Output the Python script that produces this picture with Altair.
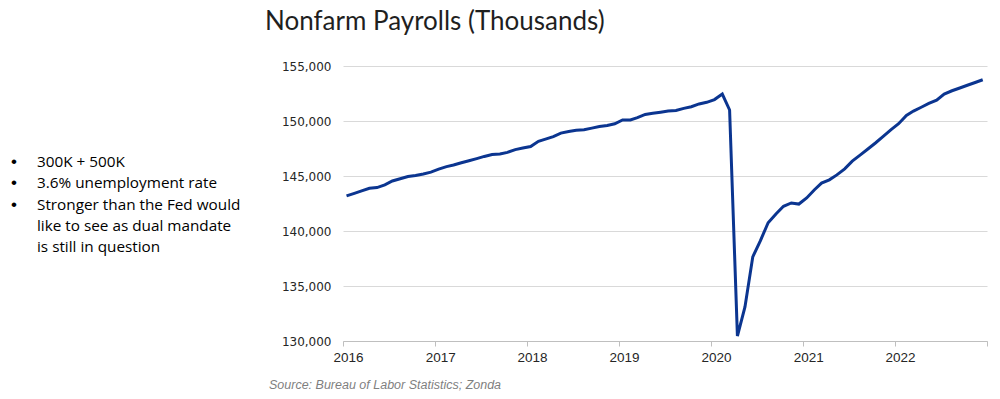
import altair as alt
import pandas as pd

# Monthly nonfarm payrolls (thousands)
payrolls_2016 = [143190, 143420, 143650, 143880, 143950, 144200, 144550, 144750, 144950, 145050, 145180, 145350]
payrolls_2017 = [145620, 145850, 146000, 146200, 146380, 146580, 146780, 146950, 147000, 147150, 147400, 147550]
payrolls_2018 = [147680, 148150, 148350, 148580, 148900, 149050, 149150, 149200, 149350, 149500, 149600, 149750]
payrolls_2019 = [150100, 150100, 150300, 150600, 150700, 150800, 150900, 150950, 151150, 151300, 151550, 151700]
payrolls_2020 = [151950, 152450, 151000, 130450, 133100, 137650, 139100, 140750, 141550, 142250, 142550, 142450]
payrolls_2021 = [143000, 143750, 144350, 144650, 145100, 145650, 146350, 146900, 147450, 148000, 148600, 149200]
payrolls_2022 = [149750, 150500, 150900, 151250, 151600, 151900, 152450, 152750, 153000, 153250, 153500, 153750]

years = [2016, 2017, 2018, 2019, 2020, 2021, 2022]
series = [payrolls_2016, payrolls_2017, payrolls_2018, payrolls_2019,
          payrolls_2020, payrolls_2021, payrolls_2022]

y_ticks = [130000, 135000, 140000, 145000, 150000, 155000]
x_tick_years = [2016, 2017, 2018, 2019, 2020, 2021, 2022, 2023]

title_text = "Nonfarm Payrolls (Thousands)"
source_text = "Source: Bureau of Labor Statistics; Zonda"
bullet_lines = [
    ("•", "300K + 500K"),
    ("•", "3.6% unemployment rate"),
    ("•", "Stronger than the Fed would"),
    ("", "like to see as dual mandate"),
    ("", "is still in question"),
]

rows = []
for yr, vals in zip(years, series):
    for m, v in enumerate(vals, start=1):
        rows.append({"date": f"{yr}-{m:02d}-15", "payrolls": v})
df = pd.DataFrame(rows)

W, H = 644, 275
LEFT, TOP = 335, 58

x_scale = alt.Scale(
    type="utc",
    domain=[alt.DateTime(year=2016, month=1, date=1, utc=True),
            alt.DateTime(year=2023, month=1, date=1, utc=True)],
)

line = alt.Chart(df).mark_line(color="#0b3590", strokeWidth=3, strokeJoin="miter").encode(
    x=alt.X(
        "date:T",
        scale=x_scale,
        axis=alt.Axis(
            title=None,
            values=[alt.DateTime(year=y, month=1, date=1, utc=True) for y in x_tick_years],
            labelExpr="utcFormat(datum.value, '%Y') == '2023' ? '' : utcFormat(datum.value, '%Y')",
            grid=False,
            domainColor="#bfbfbf",
            tickColor="#bfbfbf",
            tickSize=5,
            labelPadding=4,
            labelFont="Liberation Sans",
            labelFontSize=13.5,
            labelColor="#262626",
            labelOffset=5,
            labelFlush=False,
        ),
    ),
    y=alt.Y(
        "payrolls:Q",
        scale=alt.Scale(domain=[130000, 155000], nice=False, zero=False),
        axis=alt.Axis(
            title=None,
            values=y_ticks,
            format=",.0f",
            domain=False,
            ticks=False,
            grid=True,
            gridColor="#d9d9d9",
            gridWidth=1,
            labelPadding=12,
            labelFont="DejaVu Sans",
            labelFontSize=12,
            labelColor="#262626",
        ),
    ),
)

one = pd.DataFrame({"k": [0]})

title = alt.Chart(one).mark_text(
    align="left", baseline="alphabetic", font="Lato", fontSize=26, color="#1f1f1f"
).encode(x=alt.value(-78), y=alt.value(-36.5), text=alt.value(title_text))

source = alt.Chart(one).mark_text(
    align="left", baseline="middle", font="Liberation Sans", fontSize=12.5,
    fontStyle="italic", color="#7f7f7f"
).encode(x=alt.value(-74), y=alt.value(319), text=alt.value(source_text))

text_layers = []
y0 = 96.0
for i, (b, t) in enumerate(bullet_lines):
    yy = y0 + i * 21.3
    if b:
        text_layers.append(
            alt.Chart(one).mark_text(
                align="left", baseline="middle", font="Liberation Sans", fontSize=17, color="#000000"
            ).encode(x=alt.value(-332), y=alt.value(yy), text=alt.value(b))
        )
    text_layers.append(
        alt.Chart(one).mark_text(
            align="left", baseline="middle", font="Open Sans", fontSize=15.3, color="#000000"
        ).encode(x=alt.value(-306), y=alt.value(yy), text=alt.value(t))
    )

chart = alt.layer(line, title, source, *text_layers).properties(
    width=W, height=H,
    autosize=alt.AutoSizeParams(type="none"),
    padding={"left": LEFT, "top": TOP, "right": 5, "bottom": 50},
    background="white",
).configure_view(stroke=None)

chart.save("out.html", embed_options={"renderer": "svg", "actions": False})
